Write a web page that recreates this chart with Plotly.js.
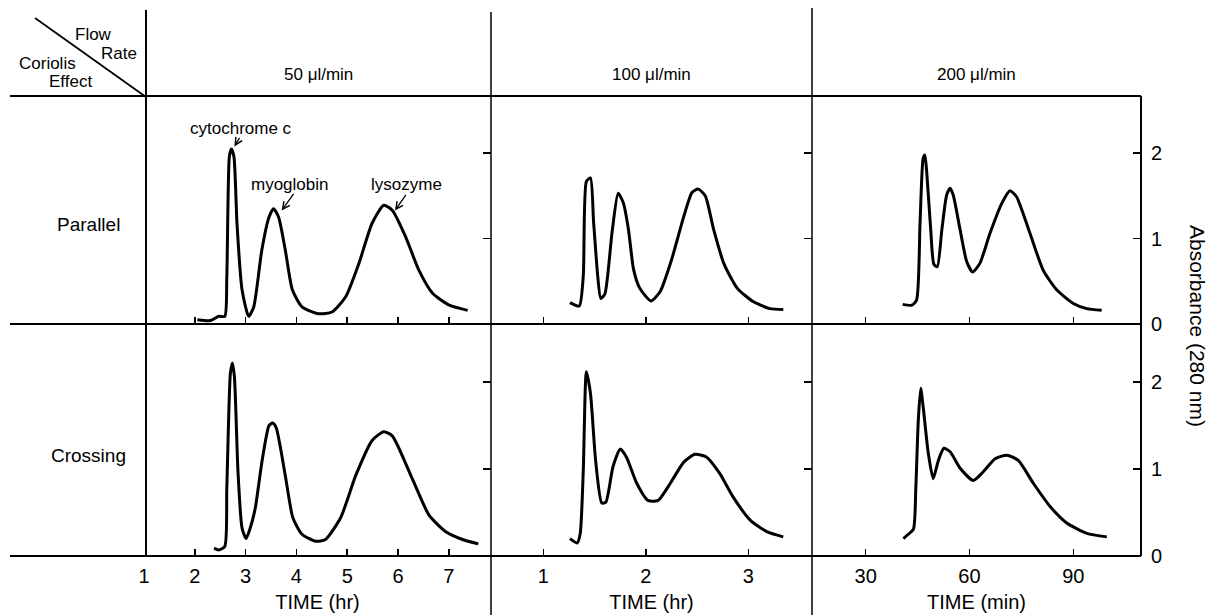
<!DOCTYPE html>
<html>
<head>
<meta charset="utf-8">
<script src="https://cdn.plot.ly/plotly-3.0.1.min.js"></script>
<style>html,body{margin:0;padding:0;background:#fff;}#chart{width:1212px;height:615px;}</style>
</head>
<body>
<div id="chart"></div>
<script>
// ---- Data (absorbance at 280 nm vs elution time) ----
const flowRates = ["50 μl/min", "100 μl/min", "200 μl/min"];
const coriolisModes = ["Parallel", "Crossing"];
const timeTitles = ["TIME (hr)", "TIME (hr)", "TIME (min)"];

const par50_t = [2.05,2.31,2.47,2.59,2.63,2.68,2.72,2.77,2.83,2.93,3.06,3.16,3.32,3.46,3.55,3.65,3.78,3.92,4.11,4.44,4.70,4.97,5.23,5.49,5.72,5.89,6.15,6.41,6.68,7.01,7.37];
const par50_a = [0.05,0.04,0.09,0.09,0.55,1.96,2.05,1.96,1.18,0.40,0.09,0.20,0.87,1.25,1.35,1.25,0.87,0.40,0.20,0.12,0.14,0.32,0.71,1.18,1.39,1.33,1.02,0.63,0.36,0.22,0.16];

const cro50_t = [2.38,2.47,2.59,2.63,2.70,2.74,2.78,2.85,2.93,3.01,3.09,3.19,3.32,3.46,3.53,3.60,3.78,3.93,4.11,4.38,4.57,4.87,5.17,5.49,5.72,5.89,6.28,6.61,6.94,7.27,7.58];
const cro50_a = [0.09,0.07,0.11,0.78,2.10,2.22,2.06,0.97,0.32,0.20,0.32,0.55,1.08,1.50,1.53,1.48,0.93,0.44,0.25,0.17,0.19,0.44,0.93,1.33,1.43,1.38,0.89,0.47,0.28,0.19,0.14];

const par100_t = [1.26,1.35,1.39,1.42,1.46,1.49,1.53,1.56,1.60,1.67,1.73,1.78,1.83,1.88,1.94,2.05,2.14,2.25,2.37,2.45,2.51,2.58,2.66,2.76,2.89,3.05,3.21,3.34];
const par100_a = [0.25,0.21,0.57,1.67,1.71,1.20,0.57,0.30,0.35,1.07,1.53,1.42,1.11,0.64,0.42,0.27,0.38,0.75,1.26,1.54,1.58,1.50,1.11,0.71,0.42,0.26,0.18,0.17];

const cro100_t = [1.26,1.33,1.36,1.39,1.42,1.46,1.51,1.57,1.61,1.68,1.75,1.81,1.91,2.02,2.12,2.24,2.37,2.48,2.59,2.72,2.85,3.02,3.18,3.34];
const cro100_a = [0.20,0.15,0.26,0.99,2.12,1.87,1.10,0.61,0.62,1.03,1.23,1.14,0.84,0.64,0.64,0.84,1.08,1.17,1.14,0.95,0.68,0.41,0.28,0.22];

const par200_t = [40.7,43.3,44.7,45.7,46.6,47.1,47.6,48.8,49.7,50.7,52.0,53.4,54.4,55.3,57.3,59.2,60.9,63.0,65.9,69.3,71.7,73.6,77.5,81.3,85.2,90.0,93.9,98.2];
const par200_a = [0.23,0.22,0.28,1.18,1.94,1.98,1.80,1.10,0.70,0.67,1.10,1.51,1.59,1.51,1.10,0.73,0.61,0.71,1.06,1.41,1.56,1.49,1.06,0.63,0.40,0.24,0.18,0.16];

const cro200_t = [40.9,42.3,43.8,44.5,45.2,45.9,46.6,48.1,49.5,51.0,52.6,54.4,57.3,61.1,64.0,67.4,70.8,74.1,78.4,83.3,88.1,93.9,99.7];
const cro200_a = [0.20,0.25,0.31,0.80,1.56,1.93,1.72,1.18,0.89,1.10,1.24,1.20,1.01,0.87,0.97,1.12,1.16,1.10,0.84,0.57,0.38,0.26,0.22];

const xTickVals = [[1,2,3,4,5,6,7],[1,2,3],[30,60,90]];
const xRanges = [[1,7.83],[0.49,3.62],[14.48,109.57]];
const yTickVals = [0,1,2];
const peakNames = ["cytochrome c","myoglobin","lysozyme"];

// ---- Geometry helpers (pixels -> paper) ----
const W = 1212, H = 615;
const px = v => v / W;
const py = v => 1 - v / H;
const colPx = [[144,491],[491,812],[812,1141]];
const rowPx = [[96,324],[324,556]];
const FONT = "Liberation Sans, Arial, Helvetica, sans-serif";

const series = [
  [par50_t, par50_a], [par100_t, par100_a], [par200_t, par200_a],
  [cro50_t, cro50_a], [cro100_t, cro100_a], [cro200_t, cro200_a]
];

const traces = [];
const layout = {
  width: W, height: H,
  margin: {l:0, r:0, t:0, b:0, pad:0},
  paper_bgcolor: "#fff", plot_bgcolor: "rgba(0,0,0,0)",
  showlegend: false,
  font: {family: FONT, color: "#000", size: 17},
  shapes: [], annotations: []
};

series.forEach((s, i) => {
  const row = Math.floor(i / 3), col = i % 3, n = i + 1;
  const xa = "x" + (n === 1 ? "" : n), ya = "y" + (n === 1 ? "" : n);
  traces.push({
    x: s[0], y: s[1], xaxis: xa, yaxis: ya, type: "scatter", mode: "lines",
    line: {color: "#000", width: 3, shape: "spline", smoothing: 0.6},
    hoverinfo: "skip"
  });
  const xk = "xaxis" + (n === 1 ? "" : n), yk = "yaxis" + (n === 1 ? "" : n);
  layout[xk] = {
    domain: [px(colPx[col][0]), px(colPx[col][1])],
    range: xRanges[col], anchor: ya,
    showgrid: false, zeroline: false, showline: false,
    ticks: "inside", ticklen: 7, tickwidth: 1.5, tickcolor: "#000",
    tickvals: xTickVals[col], showticklabels: row === 1,
    ticklabelstandoff: 6,
    tickfont: {size: 20, family: FONT, color: "#000"},
    fixedrange: true
  };
  if (row === 1) {
    layout[xk].title = {text: timeTitles[col], font: {size: 20, family: FONT, color: "#000"}, standoff: 8};
  }
  layout[yk] = {
    domain: [py(rowPx[row][1]), py(rowPx[row][0])],
    range: [0, 2.67], anchor: xa, side: "right",
    showgrid: false, zeroline: false, showline: false,
    ticks: "inside", ticklen: 8, tickwidth: 1.5, tickcolor: "#000",
    tickvals: yTickVals, showticklabels: col === 2,
    ticklabelstandoff: 9,
    tickfont: {size: 20, family: FONT, color: "#000"},
    fixedrange: true
  };
});

// ---- Table frame lines ----
const L = (x0,y0,x1,y1,w) => ({type:"line", xref:"paper", yref:"paper",
  x0:px(x0), y0:py(y0), x1:px(x1), y1:py(y1), line:{color:"#000", width:w||2}});
layout.shapes.push(
  L(10,96,1141,96), L(10,324,1141,324), L(10,556,1141,556),
  L(146,10,146,556), L(491,12,491,615,1.5), L(812,8,812,615,1.5),
  L(1141,96,1141,556), L(35,18,146,97,1.8)
);

// ---- Text ----
const T = (text,x,y,size,extra) => Object.assign({text, xref:"paper", yref:"paper",
  x:px(x), y:py(y), showarrow:false, xanchor:"center", yanchor:"middle",
  font:{family:FONT, size:size, color:"#000"}}, extra||{});
const headerX = [318.5, 651.5, 976.5];
flowRates.forEach((f,i) => layout.annotations.push(T(f, headerX[i], 74, 17)));
layout.annotations.push(T(coriolisModes[0], 88, 224, 19));
layout.annotations.push(T(coriolisModes[1], 88, 455, 19));
layout.annotations.push(T("Flow", 93, 34, 17));
layout.annotations.push(T("Rate", 119, 54, 17));
layout.annotations.push(T("Coriolis", 47, 64, 17));
layout.annotations.push(T("Effect", 70, 82, 17));
layout.annotations.push(T("Absorbance (280 nm)", 1197, 326, 21, {textangle: 90}));

// Peak labels (top-left panel, data coordinates)
const labelPos = [[2.91,2.29],[3.87,1.63],[6.16,1.63]];
const arrowTip = [[2.78,2.08],[3.71,1.33],[5.94,1.33]];
const arrowOff = [[6,-10],[13,-18],[12,-17]];
peakNames.forEach((nm,i) => {
  layout.annotations.push({text:nm, xref:"x", yref:"y", x:labelPos[i][0], y:labelPos[i][1],
    showarrow:false, font:{family:FONT, size:17, color:"#000"}});
  layout.annotations.push({text:"", xref:"x", yref:"y", x:arrowTip[i][0], y:arrowTip[i][1],
    showarrow:true, ax:arrowOff[i][0], ay:arrowOff[i][1], arrowhead:5, arrowsize:1.1,
    arrowwidth:1.3, arrowcolor:"#000", standoff:0});
});

Plotly.newPlot("chart", traces, layout, {staticPlot:true, displayModeBar:false});
</script>
</body>
</html>
